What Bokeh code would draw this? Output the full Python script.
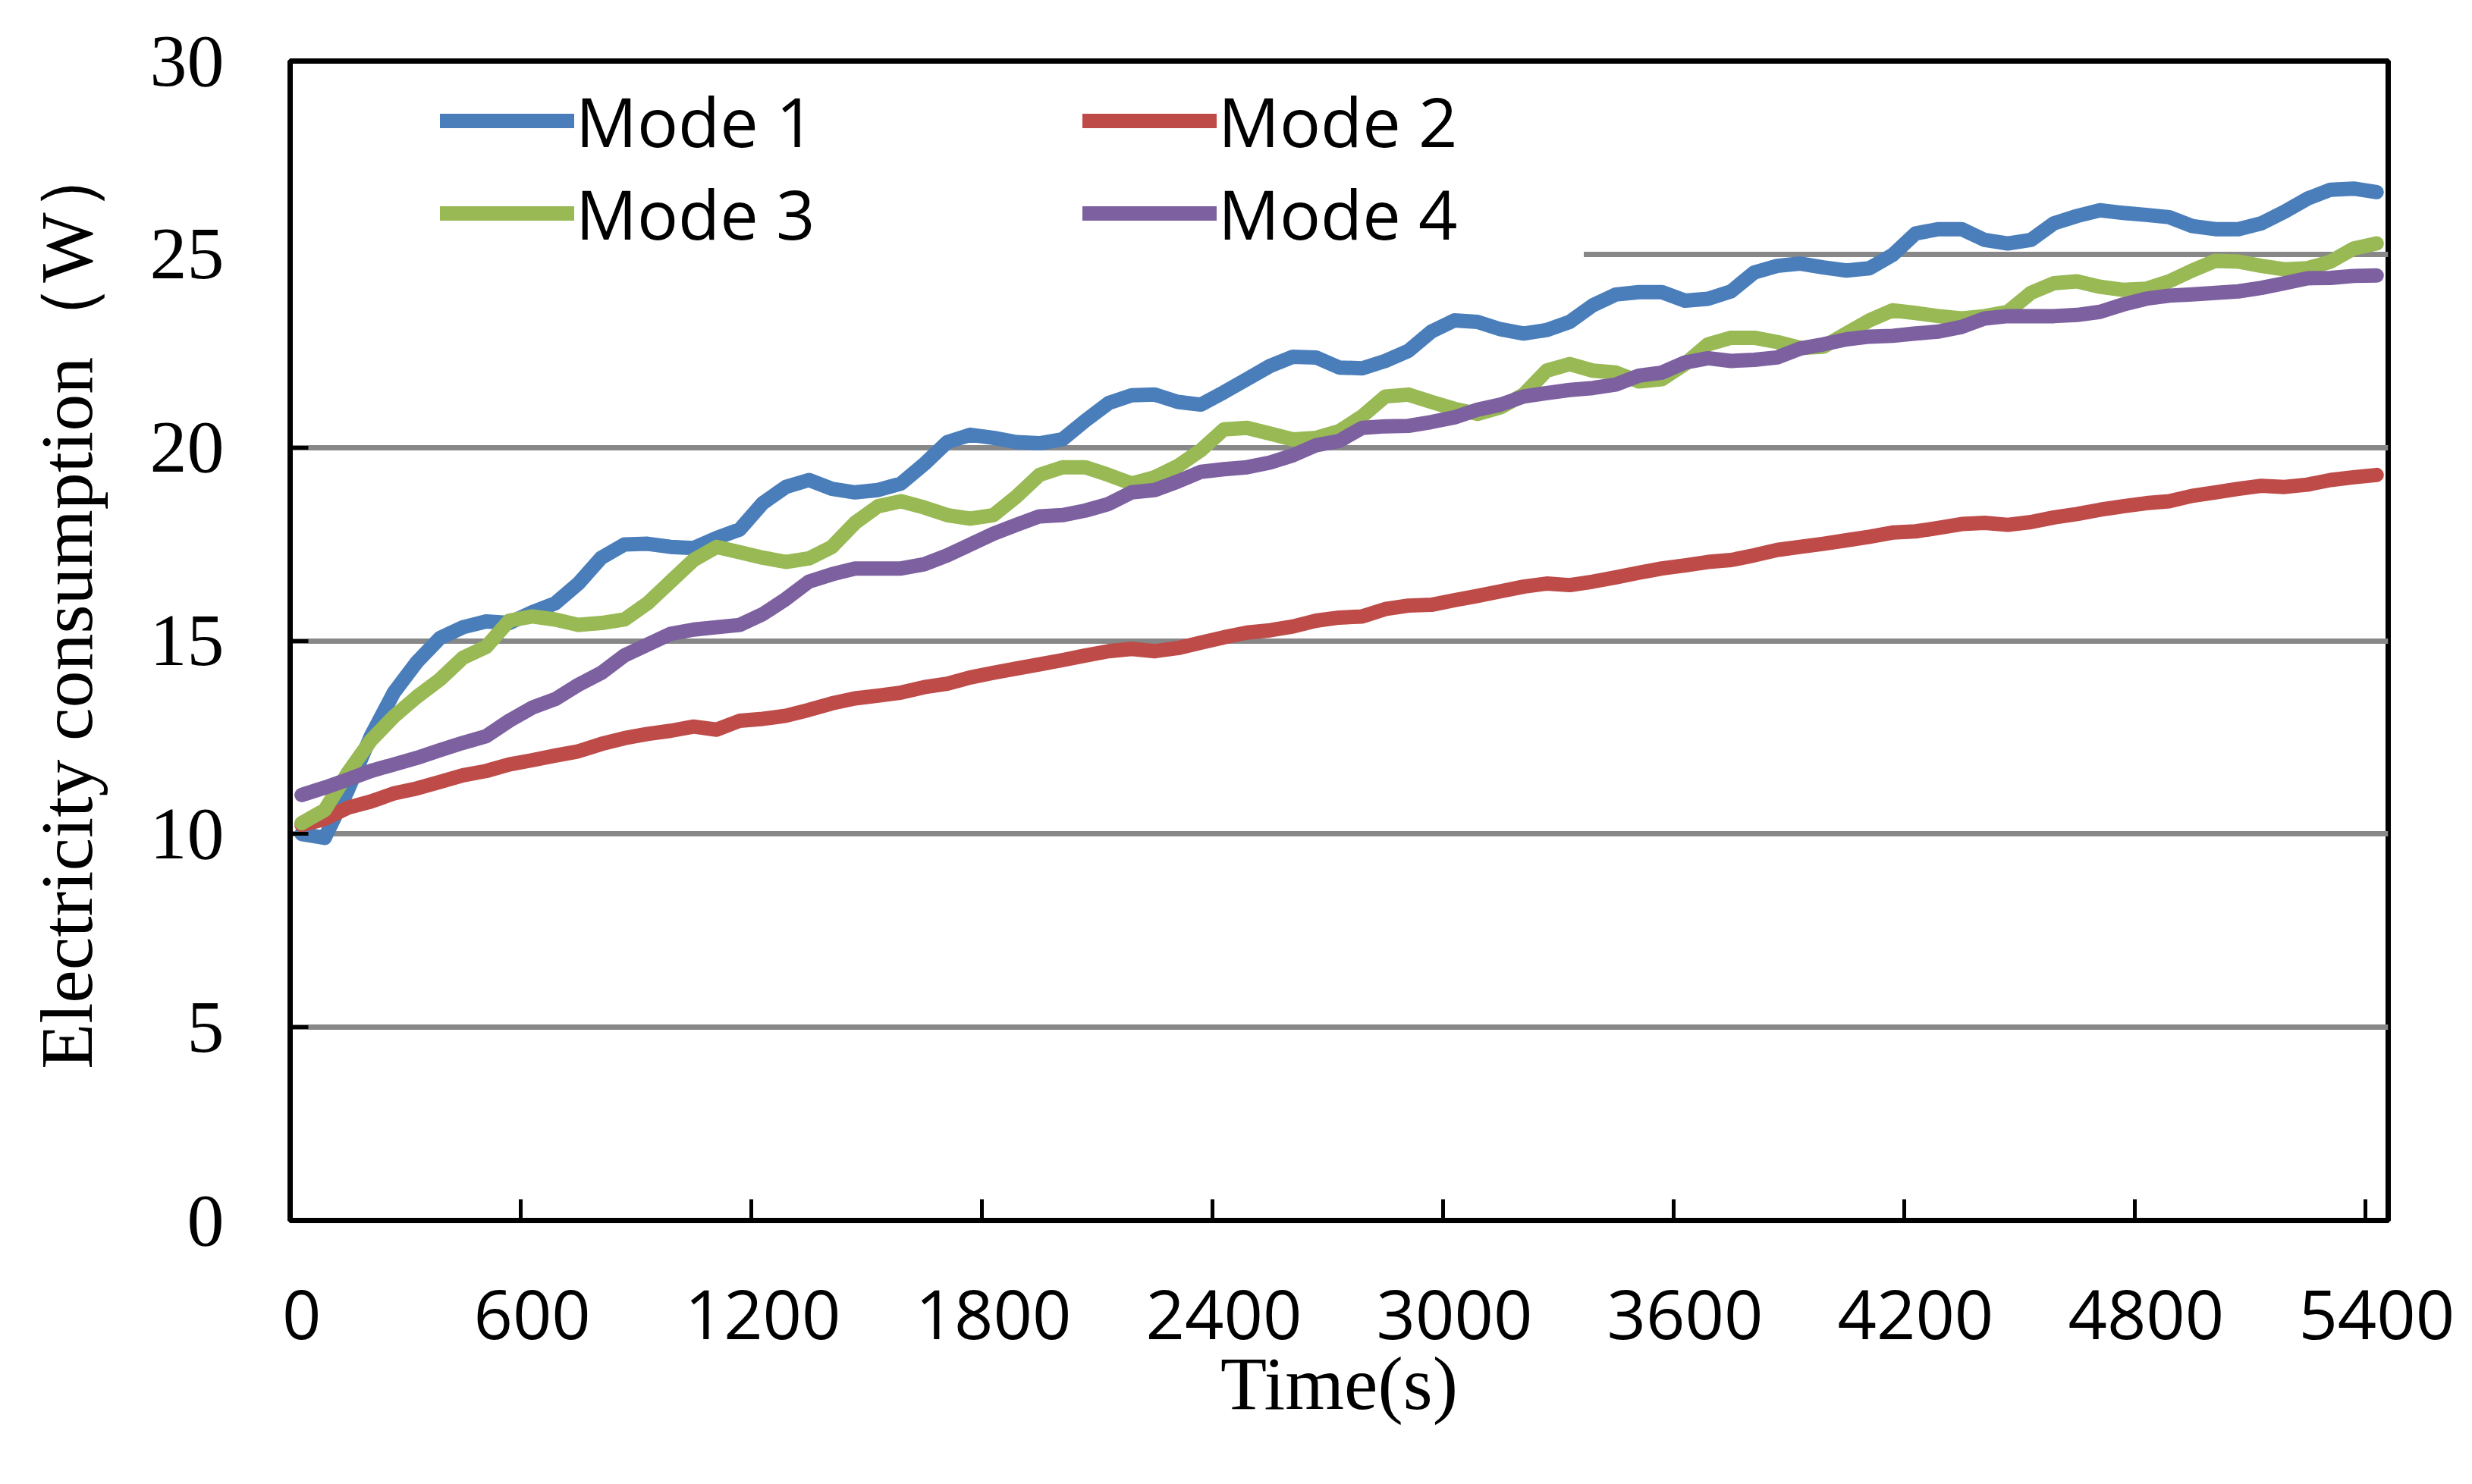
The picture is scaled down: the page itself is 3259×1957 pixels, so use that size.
from bokeh.plotting import figure
from bokeh.models import Range1d, LinearAxis, FixedTicker, Grid, Legend, LegendItem
from bokeh.embed import file_html
from bokeh.resources import INLINE

# ---- data ----
time_s = list(range(0, 5401, 60))

mode1 = [10.0, 9.9, 11.13, 12.53, 13.66, 14.45, 15.07, 15.35, 15.5, 15.46,
         15.74, 15.97, 16.48, 17.15, 17.49, 17.51, 17.43, 17.4, 17.66, 17.88,
         18.56, 18.98, 19.16, 18.93, 18.84, 18.9, 19.07, 19.57, 20.14, 20.33,
         20.25, 20.14, 20.11, 20.21, 20.7, 21.15, 21.35, 21.37, 21.18, 21.11,
         21.43, 21.77, 22.11, 22.35, 22.33, 22.07, 22.05, 22.24, 22.5, 23.0,
         23.29, 23.25, 23.06, 22.95, 23.04, 23.25, 23.68, 23.96, 24.02, 24.02,
         23.8, 23.85, 24.04, 24.53, 24.7, 24.76, 24.66, 24.58, 24.64, 24.98,
         25.54, 25.65, 25.65, 25.37, 25.28, 25.37, 25.8, 25.99, 26.14, 26.07,
         26.02, 25.96, 25.73, 25.65, 25.65, 25.8, 26.1, 26.44, 26.67, 26.7,
         26.61]

mode2 = [10.23, 10.39, 10.68, 10.84, 11.05, 11.18, 11.35, 11.52, 11.63, 11.8,
         11.91, 12.03, 12.14, 12.33, 12.48, 12.59, 12.67, 12.78, 12.7, 12.93,
         12.98, 13.06, 13.21, 13.38, 13.51, 13.58, 13.66, 13.8, 13.89, 14.05,
         14.17, 14.28, 14.39, 14.5, 14.62, 14.73, 14.79, 14.73, 14.81, 14.95,
         15.09, 15.21, 15.27, 15.37, 15.52, 15.6, 15.63, 15.82, 15.91, 15.93,
         16.05, 16.16, 16.28, 16.4, 16.48, 16.44, 16.53, 16.64, 16.76, 16.87,
         16.95, 17.04, 17.09, 17.21, 17.35, 17.43, 17.51, 17.6, 17.69, 17.8,
         17.83, 17.92, 18.02, 18.05, 18.0, 18.07, 18.19, 18.28, 18.39, 18.48,
         18.56, 18.61, 18.75, 18.84, 18.93, 19.01, 18.98, 19.04, 19.16, 19.23,
         19.29]

mode3 = [10.28, 10.62, 11.58, 12.42, 13.04, 13.55, 14.0, 14.56, 14.84, 15.52,
         15.63, 15.55, 15.41, 15.46, 15.55, 15.97, 16.53, 17.09, 17.43, 17.29,
         17.15, 17.04, 17.13, 17.43, 18.05, 18.48, 18.61, 18.45, 18.25, 18.16,
         18.25, 18.73, 19.29, 19.49, 19.49, 19.29, 19.07, 19.23, 19.52, 19.93,
         20.47, 20.51, 20.36, 20.21, 20.25, 20.42, 20.81, 21.32, 21.37, 21.18,
         21.0, 20.87, 21.04, 21.37, 21.99, 22.16, 21.99, 21.94, 21.71, 21.77,
         22.16, 22.67, 22.84, 22.84, 22.73, 22.58, 22.61, 22.95, 23.29, 23.55,
         23.48, 23.4, 23.34, 23.4, 23.51, 24.0, 24.25, 24.3, 24.16, 24.08,
         24.11, 24.3, 24.58, 24.83, 24.81, 24.7, 24.61, 24.64, 24.81, 25.15,
         25.28]

mode4 = [11.01, 11.2, 11.41, 11.63, 11.8, 11.97, 12.17, 12.36, 12.53, 12.93,
         13.27, 13.49, 13.86, 14.17, 14.62, 14.9, 15.18, 15.29, 15.35, 15.41,
         15.69, 16.08, 16.53, 16.72, 16.87, 16.87, 16.87, 16.98, 17.21, 17.49,
         17.77, 18.0, 18.22, 18.25, 18.37, 18.54, 18.84, 18.9, 19.12, 19.37,
         19.44, 19.49, 19.61, 19.8, 20.06, 20.17, 20.51, 20.55, 20.56, 20.66,
         20.78, 20.98, 21.11, 21.32, 21.41, 21.49, 21.54, 21.63, 21.86, 21.94,
         22.2, 22.31, 22.24, 22.27, 22.33, 22.56, 22.67, 22.8, 22.87, 22.89,
         22.95, 23.0, 23.12, 23.34, 23.4, 23.4, 23.4, 23.43, 23.51, 23.7,
         23.85, 23.93, 23.96, 24.0, 24.04, 24.13, 24.25, 24.38, 24.39, 24.44,
         24.45]

series_names = ["Mode 1", "Mode 2", "Mode 3", "Mode 4"]
x_tick_values = [0, 600, 1200, 1800, 2400, 3000, 3600, 4200, 4800, 5400]
y_tick_values = [0, 5, 10, 15, 20, 25, 30]
y_grid_values = [5, 10, 15, 20, 25]
x_title = "Time(s)"
y_title = "Electricity consumption（W）"

# ---- styling ----
colors = ["#4A7EBB", "#BE4B48", "#98B954", "#7D60A0"]
half_step = 30  # category axis: points sit mid-way between tick marks

LABEL_FONT = "Open Sans"
SERIF = "Liberation Serif"

W, H = 3243, 1941
FL, FT, FR, FB = 382, 80, 3148, 1609   # frame edges on the page

p = figure(width=W, height=H, output_backend="svg", toolbar_location=None,
           x_range=Range1d(time_s[0] - half_step, time_s[-1] + half_step),
           y_range=Range1d(0, 30),
           x_axis_type=None, y_axis_type=None,
           min_border_left=FL, min_border_right=W - FR,
           min_border_top=FT, min_border_bottom=H - FB)
p.outline_line_color = "black"
p.outline_line_width = 7
p.background_fill_color = "white"
p.border_fill_color = "white"

# y axis (leading no-break spaces nudge the centred title upward like the original)
yaxis = LinearAxis(ticker=FixedTicker(ticks=y_tick_values, minor_ticks=[]),
                   axis_line_width=7, axis_line_color="black",
                   major_tick_in=24, major_tick_out=0,
                   major_tick_line_width=5, major_tick_line_color="black",
                   minor_tick_line_color=None,
                   major_label_text_font=SERIF, major_label_text_font_size="98px",
                   major_label_text_color="black", major_label_standoff=87,
                   axis_label="\u00a0" * 4 + y_title,
                   axis_label_text_font=SERIF, axis_label_text_font_size="98px",
                   axis_label_text_font_style="normal", axis_label_text_color="black",
                   axis_label_standoff=53)
p.add_layout(yaxis, "left")

p.add_layout(Grid(dimension=1, ticker=FixedTicker(ticks=y_grid_values),
                  grid_line_color="#888888", grid_line_width=7))

# x axis: tick marks between categories (labels not drawn)
x_boundaries = [t - half_step for t in x_tick_values]
xaxis_ticks = LinearAxis(ticker=FixedTicker(ticks=x_boundaries, minor_ticks=[]),
                         axis_line_width=7, axis_line_color="black",
                         major_tick_in=28, major_tick_out=0,
                         major_tick_line_width=5, major_tick_line_color="black",
                         minor_tick_line_color=None,
                         major_label_text_color=None,
                         major_label_text_font_size="1px", major_label_standoff=0)
p.add_layout(xaxis_ticks, "below")

# x axis: labels centred on categories
xaxis_labels = LinearAxis(ticker=FixedTicker(ticks=x_tick_values, minor_ticks=[]),
                          axis_line_color=None, major_tick_line_color=None,
                          minor_tick_line_color=None, major_tick_in=0, major_tick_out=0,
                          major_label_text_font=LABEL_FONT, major_label_text_font_size="90px",
                          major_label_text_color="black", major_label_standoff=91,
                          axis_label=x_title, axis_label_text_font=SERIF,
                          axis_label_text_font_size="100px", axis_label_text_font_style="normal",
                          axis_label_text_color="black", axis_label_standoff=0)
p.add_layout(xaxis_labels, "below")

renderers = []
for vals, col in zip([mode1, mode2, mode3, mode4], colors):
    r = p.line(time_s, vals, line_width=19, line_color=col,
               line_join="round", line_cap="round")
    renderers.append(r)

legend_bottom = 342
common = dict(orientation="vertical", glyph_width=177, glyph_height=120,
              label_height=120, label_standoff=2, spacing=0, padding=0, margin=0,
              background_fill_color="white", background_fill_alpha=1.0,
              border_line_color=None, label_text_font=LABEL_FONT,
              label_text_font_size="90px", label_text_color="black")

legA = Legend(items=[LegendItem(label=series_names[0], renderers=[renderers[0]]),
                     LegendItem(label=series_names[2], renderers=[renderers[2]])],
              location=(4, FB - legend_bottom), label_width=670,
              title="\u00a0", title_location="left", title_standoff=183,
              title_text_font_size="10px", title_text_color=None, **common)
legB = Legend(items=[LegendItem(label=series_names[1], renderers=[renderers[1]]),
                     LegendItem(label=series_names[3], renderers=[renderers[3]])],
              location=(1427 - FL, FB - legend_bottom), label_width=482, **common)
p.add_layout(legA)
p.add_layout(legB)

open("out.html", "w").write(file_html(p, INLINE))
